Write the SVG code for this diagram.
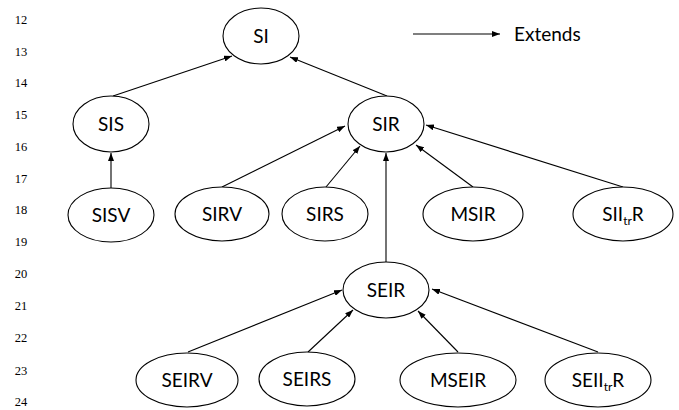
<svg xmlns="http://www.w3.org/2000/svg" width="679" height="410" viewBox="0 0 679 410">
<defs>
<marker id="arr" viewBox="0 0 8 6" refX="8" refY="3" markerWidth="8" markerHeight="6" markerUnits="userSpaceOnUse" orient="auto">
<path d="M0,0 L8,3 L0,6 z" fill="#000"/>
</marker>
</defs>
<style>
.n ellipse{fill:#fff;stroke:#000;stroke-width:1.1}
.n text,.lg{font-family:Lato,"Liberation Sans",sans-serif;font-size:19px;fill:#000;text-anchor:middle}
.lg{text-anchor:start}
.ln{font-family:"Liberation Serif",serif;font-size:12.5px;fill:#000;text-anchor:middle}
#edges line{stroke:#000;stroke-width:1.1;marker-end:url(#arr)}
</style>
<rect width="679" height="410" fill="#fff"/>
<g id="linenums">
<text class="ln" x="21" y="24">12</text>
<text class="ln" x="21" y="56">13</text>
<text class="ln" x="21" y="87">14</text>
<text class="ln" x="21" y="119">15</text>
<text class="ln" x="21" y="151">16</text>
<text class="ln" x="21" y="183">17</text>
<text class="ln" x="21" y="214">18</text>
<text class="ln" x="21" y="246">19</text>
<text class="ln" x="21" y="278">20</text>
<text class="ln" x="21" y="310">21</text>
<text class="ln" x="21" y="342">22</text>
<text class="ln" x="21" y="375">23</text>
<text class="ln" x="21" y="406">24</text>
</g>
<g id="edges">
<line x1="113" y1="96" x2="232" y2="56"/>
<line x1="387" y1="96" x2="290" y2="57"/>
<line x1="111" y1="188" x2="111" y2="153"/>
<line x1="222" y1="187" x2="345" y2="126"/>
<line x1="326" y1="187" x2="360" y2="146"/>
<line x1="386" y1="262" x2="386" y2="153"/>
<line x1="473" y1="187" x2="416" y2="145"/>
<line x1="623" y1="187" x2="426" y2="125"/>
<line x1="188" y1="352" x2="342" y2="290"/>
<line x1="308" y1="352" x2="353" y2="310"/>
<line x1="458" y1="352" x2="418" y2="311"/>
<line x1="598" y1="352" x2="432" y2="289"/>
<line x1="413" y1="34" x2="500" y2="34"/>
</g>
<text class="lg" x="514" y="41">Extends</text>
<g id="SI" class="n"><ellipse cx="261" cy="36" rx="38" ry="28"/><text x="261" y="43">SI</text></g>
<g id="SIS" class="n"><ellipse cx="111" cy="124" rx="38" ry="28"/><text x="111" y="131">SIS</text></g>
<g id="SIR" class="n"><ellipse cx="386" cy="124" rx="38" ry="28"/><text x="386" y="131">SIR</text></g>
<g id="SISV" class="n"><ellipse cx="111" cy="215" rx="43" ry="27"/><text x="111" y="222">SISV</text></g>
<g id="SIRV" class="n"><ellipse cx="222" cy="214" rx="47" ry="27"/><text x="222" y="221">SIRV</text></g>
<g id="SIRS" class="n"><ellipse cx="325" cy="214" rx="43" ry="27"/><text x="325" y="221">SIRS</text></g>
<g id="MSIR" class="n"><ellipse cx="473" cy="214" rx="50" ry="27"/><text x="473" y="221">MSIR</text></g>
<g id="SIItrR" class="n"><ellipse cx="623" cy="214" rx="50" ry="27"/><text x="623" y="221">SII<tspan font-size="12" dy="4">tr</tspan><tspan dy="-4">R</tspan></text></g>
<g id="SEIR" class="n"><ellipse cx="386" cy="290" rx="43" ry="28"/><text x="386" y="297">SEIR</text></g>
<g id="SEIRV" class="n"><ellipse cx="187" cy="380" rx="51" ry="27"/><text x="187" y="387">SEIRV</text></g>
<g id="SEIRS" class="n"><ellipse cx="307" cy="379" rx="48" ry="27"/><text x="307" y="386">SEIRS</text></g>
<g id="MSEIR" class="n"><ellipse cx="458" cy="380" rx="58" ry="27"/><text x="458" y="387">MSEIR</text></g>
<g id="SEIItrR" class="n"><ellipse cx="598" cy="380" rx="53" ry="27"/><text x="598" y="387">SEII<tspan font-size="12" dy="4">tr</tspan><tspan dy="-4">R</tspan></text></g>
</svg>
